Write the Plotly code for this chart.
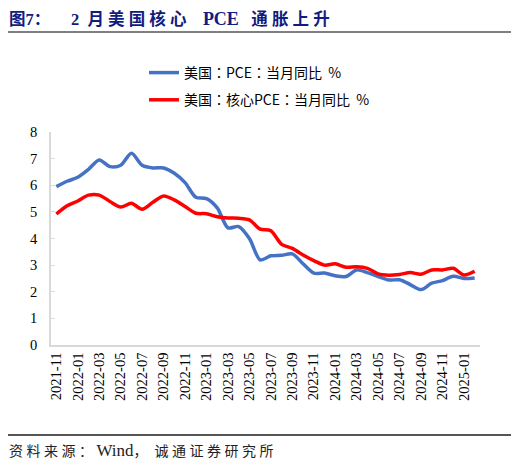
import plotly.graph_objects as go

# 月份（2021-11 至 2025-02）
months = [
    "2021-11", "2021-12", "2022-01", "2022-02", "2022-03", "2022-04", "2022-05", "2022-06",
    "2022-07", "2022-08", "2022-09", "2022-10", "2022-11", "2022-12", "2023-01", "2023-02",
    "2023-03", "2023-04", "2023-05", "2023-06", "2023-07", "2023-08", "2023-09", "2023-10",
    "2023-11", "2023-12", "2024-01", "2024-02", "2024-03", "2024-04", "2024-05", "2024-06",
    "2024-07", "2024-08", "2024-09", "2024-10", "2024-11", "2024-12", "2025-01", "2025-02",
]

pce = [
    5.95, 6.15, 6.3, 6.6, 6.95, 6.7, 6.75, 7.2, 6.75, 6.65, 6.65, 6.45, 6.1, 5.55, 5.5, 5.15,
    4.4, 4.45, 4.0, 3.2, 3.35, 3.37, 3.42, 3.05, 2.7, 2.7, 2.6, 2.57, 2.82, 2.72, 2.57, 2.44,
    2.45, 2.27, 2.08, 2.32, 2.42, 2.58, 2.5, 2.52,
]

core_pce = [
    4.92, 5.23, 5.41, 5.63, 5.63, 5.39, 5.18, 5.32, 5.1, 5.36, 5.6, 5.45, 5.2, 4.95, 4.93, 4.82,
    4.77, 4.76, 4.7, 4.35, 4.29, 3.78, 3.63, 3.38, 3.17, 3.0, 3.05, 2.92, 2.94, 2.88, 2.67, 2.62,
    2.65, 2.72, 2.66, 2.82, 2.82, 2.88, 2.63, 2.77,
]

tick_labels = months[::2]

# 页面 body 自带 8px 边距，图本身缩小 16px，坐标按窗口像素换算
OFF = 8
W, H = 519 - 2 * OFF, 468 - 2 * OFF
serif = "Liberation Serif, Times New Roman, Noto Sans CJK SC, serif"
navy = "#101c80"
NB = "\u00a0"


def px_x(p):
    return (p - OFF) / W


def px_y(p):
    return 1 - (p - OFF) / H


fig = go.Figure()
fig.add_trace(go.Scatter(
    x=months, y=pce, mode="lines", name="美国：PCE：当月同比  %",
    line=dict(color="#4472C4", width=3.5, shape="spline", smoothing=0.8),
    legendgroup="a",
))
fig.add_trace(go.Scatter(
    x=months, y=core_pce, mode="lines", name="美国：核心PCE：当月同比  %",
    line=dict(color="#FF0000", width=3.5, shape="spline", smoothing=0.8),
    legendgroup="b",
))

title = ("<b>图7：" + NB * 5 + "2" + NB * 2 + "月 美 国 核 心" + NB * 4
         + "<span style='font-size:18px'>PCE</span>" + NB * 3 + "通 胀 上 升</b>")
source = ("资 料 来 源 ：" + NB + "<span style='font-size:17px'>Wind</span>，"
          + NB * 2 + "诚 通 证 券 研 究 所")

fig.update_layout(
    width=W, height=H,
    margin=dict(l=0, r=0, t=0, b=0, autoexpand=False),
    paper_bgcolor="white", plot_bgcolor="white",
    showlegend=True,
    legend=dict(
        x=px_x(144), y=px_y(57), xanchor="left", yanchor="top",
        font=dict(family="Noto Sans CJK TC, Noto Sans CJK SC, sans-serif", size=14, color="#000"),
        bgcolor="rgba(0,0,0,0)", tracegroupgap=6,
    ),
    xaxis=dict(
        domain=[px_x(51), px_x(480)], automargin=False,
        type="category", range=[-0.5, len(months) - 0.5],
        tickmode="array", tickvals=tick_labels, ticktext=tick_labels,
        tickangle=-90, showgrid=False, ticks="",
        showline=True, linecolor="#d9d9d9", linewidth=1.5,
        tickfont=dict(family=serif, size=14.5, color="#000"),
        zeroline=False,
    ),
    yaxis=dict(
        domain=[px_y(345), px_y(132)], automargin=False,
        range=[0, 8], dtick=1, showgrid=False,
        showline=True, linecolor="#d9d9d9", linewidth=1.5,
        ticks="inside", ticklen=4, tickcolor="#d9d9d9", ticklabelstandoff=9,
        tickfont=dict(family=serif, size=14.5, color="#000"),
        zeroline=False,
    ),
    annotations=[
        dict(text=title, xref="paper", yref="paper", x=px_x(7), y=px_y(19),
             xanchor="left", yanchor="middle", showarrow=False,
             font=dict(family=serif, size=16.5, color=navy)),
        dict(text=source, xref="paper", yref="paper", x=px_x(7), y=px_y(450),
             xanchor="left", yanchor="middle", showarrow=False,
             font=dict(family=serif, size=14, color="#222")),
    ],
    shapes=[
        dict(type="line", xref="paper", yref="paper",
             x0=px_x(8), x1=px_x(511), y0=px_y(32), y1=px_y(32),
             line=dict(color="#000", width=1)),
        dict(type="line", xref="paper", yref="paper",
             x0=px_x(8), x1=px_x(511), y0=px_y(435), y1=px_y(435),
             line=dict(color="#555", width=2)),
    ],
)

fig.write_html("out.html")
